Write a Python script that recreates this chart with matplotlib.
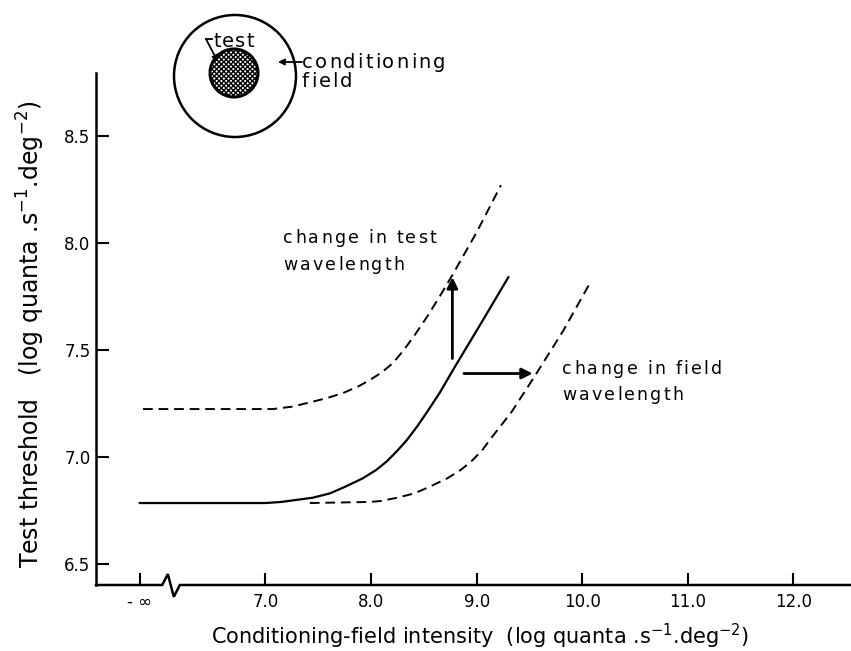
import matplotlib
matplotlib.use("Agg")
import matplotlib.pyplot as plt
from matplotlib.patches import Circle
from matplotlib.font_manager import FontProperties, findfont, get_font
from matplotlib.transforms import offset_copy

plt.rcParams['font.family'] = ['DejaVu Sans']
plt.rcParams['hatch.linewidth'] = 1.0

# curves (x: log field intensity, y: log test threshold)
base_x = [5.81, 7.0, 7.15, 7.30, 7.45, 7.61, 7.75, 7.92, 8.05, 8.15, 8.25, 8.34, 8.44, 8.53, 8.65, 8.78, 9.06, 9.30]
base_y = [6.785, 6.785, 6.79, 6.80, 6.81, 6.83, 6.86, 6.90, 6.94, 6.98, 7.03, 7.08, 7.145, 7.21, 7.30, 7.41, 7.64, 7.84]

test_x = [5.84, 7.07, 7.25, 7.42, 7.58, 7.74, 7.88, 7.99, 8.10, 8.21, 8.31, 8.40, 8.53, 8.65, 8.77, 9.00, 9.23]
test_y = [7.224, 7.224, 7.235, 7.255, 7.275, 7.30, 7.33, 7.36, 7.395, 7.44, 7.50, 7.56, 7.655, 7.75, 7.85, 8.05, 8.27]

field_x = [7.42, 7.99, 8.10, 8.25, 8.41, 8.55, 8.72, 8.85, 8.95, 9.05, 9.14, 9.33, 9.54, 9.82, 10.07]
field_y = [6.785, 6.79, 6.795, 6.81, 6.83, 6.86, 6.90, 6.94, 6.98, 7.03, 7.09, 7.21, 7.37, 7.59, 7.81]

xticks = [5.807, 7, 8, 9, 10, 11, 12]
xlabels = ['- \u221e', '7.0', '8.0', '9.0', '10.0', '11.0', '12.0']
yticks = [6.5, 7.0, 7.5, 8.0, 8.5]
ylabels = ['6.5', '7.0', '7.5', '8.0', '8.5']

xmin, xmax = 5.395, 12.545
ymin, ymax = 6.402, 8.794


def spaced(ax, x, y, s, size, track):
    # text with extra letter spacing (the original lettering is wide)
    prop = FontProperties(family='DejaVu Sans', size=size)
    font = get_font(findfont(prop))
    font.set_size(size, 72)
    dx = 0.0
    for ch in s:
        tr = offset_copy(ax.transData, fig=ax.figure, x=dx, y=0, units='points')
        ax.text(x, y, ch, fontproperties=prop, transform=tr, ha='left', va='baseline')
        g = font.load_char(ord(ch))
        dx += g.linearHoriAdvance / 65536 + track


fig = plt.figure(figsize=(8.51, 6.51), dpi=100)
ax = fig.add_axes([96 / 851, 66 / 651, 755 / 851, 512 / 651])
ax.set_xlim(xmin, xmax)
ax.set_ylim(ymin, ymax)

ax.plot(base_x, base_y, color='black', lw=1.6)
ax.plot(test_x, test_y, color='black', lw=1.4, dashes=(5, 3))
ax.plot(field_x, field_y, color='black', lw=1.4, dashes=(5, 3))

# arrows
ax.annotate('', xy=(8.77, 7.84), xytext=(8.77, 7.46),
            arrowprops=dict(arrowstyle='-|>', color='black', lw=2, mutation_scale=16, shrinkA=0, shrinkB=0))
ax.annotate('', xy=(9.53, 7.39), xytext=(8.88, 7.39),
            arrowprops=dict(arrowstyle='-|>', color='black', lw=2, mutation_scale=16, shrinkA=0, shrinkB=0))

spaced(ax, 7.17, 8.00, 'change in test', 12.5, 1.6)
spaced(ax, 7.17, 7.874, 'wavelength', 12.5, 1.6)
spaced(ax, 9.81, 7.39, 'change in field', 12.5, 1.6)
spaced(ax, 9.81, 7.264, 'wavelength', 12.5, 1.6)

# axes and broken x axis
for s in ['top', 'right', 'bottom']:
    ax.spines[s].set_visible(False)
ax.spines['left'].set_linewidth(1.8)
ax.plot([xmin, 6.022, 6.075, 6.132, 6.189, xmax], [ymin, ymin, 6.453, 6.347, ymin, ymin],
        color='black', lw=1.8, clip_on=False, solid_joinstyle='miter')

ax.set_xticks(xticks, xlabels)
ax.set_yticks(yticks, ylabels)
ax.tick_params(direction='in', length=9, width=1.5, labelsize=12)
ax.tick_params(axis='x', pad=6)
ax.tick_params(axis='y', pad=4)

fig.text(480 / 851, 1 - 636 / 651, 'Conditioning-field intensity  (log quanta .s$^{-1}$.deg$^{-2}$)',
         ha='center', va='center', fontsize=15)
fig.text(31 / 851, 1 - 334 / 651, 'Test threshold   (log quanta .s$^{-1}$.deg$^{-2}$)',
         ha='center', va='center', rotation=90, fontsize=17)

# inset sketch of the stimulus
ov = fig.add_axes([0, 0, 1, 1])
ov.set_xlim(0, 851)
ov.set_ylim(651, 0)
ov.axis('off')
ov.add_patch(Circle((235, 76), 61, facecolor='none', edgecolor='black', lw=1.8))
ov.add_patch(Circle((234, 73), 24, facecolor='white', edgecolor='black', hatch='xxxxxxx', lw=2.2))
spaced(ov, 213, 47, 'test', 14, 1.0)
ov.plot([206, 212], [39, 39], color='black', lw=1.3)
ov.annotate('', xy=(218, 62), xytext=(206, 39),
            arrowprops=dict(arrowstyle='-|>', color='black', lw=1.3, mutation_scale=9, shrinkA=0, shrinkB=0))
spaced(ov, 302, 68, 'conditioning', 14, 1.5)
spaced(ov, 302, 87, 'field', 14, 1.5)
ov.annotate('', xy=(278, 62), xytext=(302, 62),
            arrowprops=dict(arrowstyle='-|>', color='black', lw=1.3, mutation_scale=9, shrinkA=0, shrinkB=0))

fig.savefig('out.png', dpi=100)
